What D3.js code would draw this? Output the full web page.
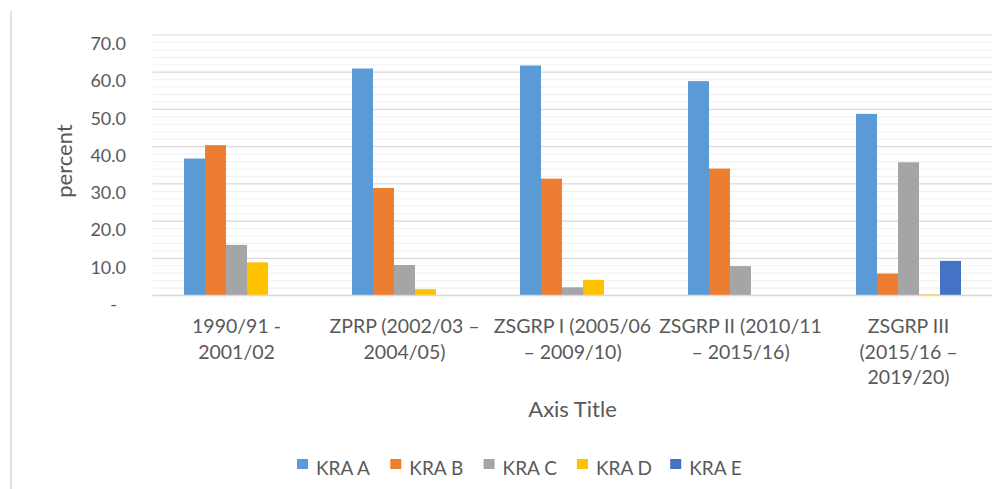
<!DOCTYPE html>
<html><head><meta charset="utf-8">
<script src="https://cdn.jsdelivr.net/npm/d3@7"></script>
<style>
html,body{margin:0;padding:0;background:#fff;}
svg{display:block;font-family:Lato,"Open Sans",sans-serif;}
</style></head>
<body><svg id="chart" width="1006" height="489"></svg>
<script>
const categories = ["1990/91 - 2001/02","ZPRP (2002/03 – 2004/05)","ZSGRP I (2005/06 – 2009/10)","ZSGRP II (2010/11 – 2015/16)","ZSGRP III (2015/16 – 2019/20)"];
const categoryLines = [["1990/91 -","2001/02"],["ZPRP (2002/03 –","2004/05)"],["ZSGRP I (2005/06","– 2009/10)"],["ZSGRP II (2010/11","– 2015/16)"],["ZSGRP III","(2015/16 –","2019/20)"]];
const seriesNames = ["KRA A","KRA B","KRA C","KRA D","KRA E"];
const kraA = [36.8, 61.0, 61.8, 57.6, 48.8];
const kraB = [40.4, 28.9, 31.4, 34.1, 5.9];
const kraC = [13.6, 8.2, 2.2, 7.9, 35.8];
const kraD = [8.9, 1.7, 4.2, 0.1, 0.3];
const kraE = [0, 0, 0, 0, 9.3];
const yTicks = [0,10,20,30,40,50,60,70];
const colors = ["#5B9BD5","#ED7D31","#A5A5A5","#FFC000","#4472C4"];
const seriesValues = [kraA,kraB,kraC,kraD,kraE];

const svg = d3.select("#chart");
const pLeft = 152.5, pRight = 992.5, pTop = 35, pBottom = 295.5;
const txt = "#595959";

// chart border line on the left
svg.append("line").attr("x1",11).attr("x2",11).attr("y1",11).attr("y2",489)
  .attr("stroke","#d9d9d9").attr("stroke-width",1.5);

const y = d3.scaleLinear().domain([0,70]).range([pBottom, pTop]);
const x0 = d3.scaleBand().domain(categories).range([pLeft, pRight]).padding(0);
const groupW = x0.bandwidth()*5/8;
const x1 = d3.scaleBand().domain(seriesNames).range([0, groupW]).padding(0);
const off = (x0.bandwidth()-groupW)/2;

// minor gridlines
const minor = d3.range(2,70,2).filter(v=>v%10!==0);
svg.append("g").selectAll("line").data(minor).join("line")
  .attr("x1",pLeft).attr("x2",pRight).attr("y1",d=>y(d)).attr("y2",d=>y(d))
  .attr("stroke","#f2f2f2").attr("stroke-width",1.2);

// major gridlines
svg.append("g").selectAll("line").data(yTicks.filter(v=>v>0)).join("line")
  .attr("x1",pLeft).attr("x2",pRight).attr("y1",d=>y(d)).attr("y2",d=>y(d))
  .attr("stroke","#d9d9d9").attr("stroke-width",1.2);

// y axis labels
const yAxis = d3.axisLeft(y).tickValues(yTicks).tickSize(0).tickPadding(0)
  .tickFormat(d=> d===0 ? "-" : d3.format(".1f")(d));
const yg = svg.append("g").attr("transform",`translate(126,0)`).call(yAxis);
yg.select(".domain").remove();
yg.selectAll("text").attr("fill",txt).style("font-size","18px").attr("dy","0.82em")
  .style("font-family","Lato,'Open Sans',sans-serif")
  .attr("dx", d=> d===0 ? -9 : 0);

// bars
const data = [];
categories.forEach((c,i)=>seriesNames.forEach((s,j)=>data.push({c,s,v:seriesValues[j][i],col:colors[j]})));
svg.append("g").selectAll("rect").data(data.filter(d=>d.v>0)).join("rect")
  .attr("x",d=>x0(d.c)+off+x1(d.s)).attr("width",x1.bandwidth())
  .attr("y",d=>y(d.v)).attr("height",d=>y(0)-y(d.v)).attr("fill",d=>d.col);

// baseline
svg.append("line").attr("x1",pLeft).attr("x2",pRight).attr("y1",y(0)).attr("y2",y(0))
  .attr("stroke","#d9d9d9").attr("stroke-width",1.5);

// x labels
const xg = svg.append("g");
categories.forEach((c,i)=>{
  const t = xg.append("text").attr("text-anchor","middle").attr("fill",txt)
    .style("font-size","19.5px");
  categoryLines[i].forEach((ln,k)=>{
    t.append("tspan").attr("x",x0(c)+x0.bandwidth()/2).attr("y",333+k*25.5).text(ln);
  });
});

// axis titles
svg.append("text").attr("x",(pLeft+pRight)/2).attr("y",417).attr("text-anchor","middle")
  .attr("fill",txt).style("font-size","22px").text("Axis Title");
svg.append("text").attr("transform","translate(72,161) rotate(-90)").attr("text-anchor","middle")
  .attr("fill",txt).style("font-size","22px").text("percent");

// legend
const lg = svg.append("g");
seriesNames.forEach((s,j)=>{
  const lx = 297 + j*93.3;
  lg.append("rect").attr("x",lx).attr("y",459).attr("width",11).attr("height",10).attr("fill",colors[j]);
  lg.append("text").attr("x",lx+19).attr("y",475).attr("fill",txt).style("font-size","19px").text(s);
});
</script></body></html>
